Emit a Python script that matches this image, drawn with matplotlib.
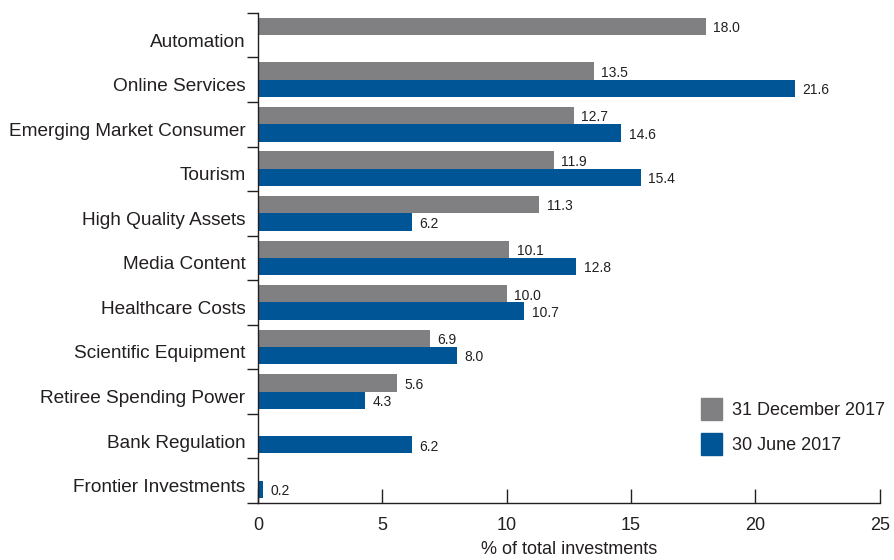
import numpy as np
import matplotlib.pyplot as plt
import matplotlib.transforms as mtransforms
from matplotlib.patches import Patch

plt.rcParams["font.family"] = ["Liberation Sans", "DejaVu Sans"]

categories = [
    "Automation", "Online Services", "Emerging Market Consumer", "Tourism",
    "High Quality Assets", "Media Content", "Healthcare Costs",
    "Scientific Equipment", "Retiree Spending Power", "Bank Regulation",
    "Frontier Investments",
]
dec_2017 = [18.0, 13.5, 12.7, 11.9, 11.3, 10.1, 10.0, 6.9, 5.6, None, None]
jun_2017 = [None, 21.6, 14.6, 15.4, 6.2, 12.8, 10.7, 8.0, 4.3, 6.2, 0.2]

GREY = "#808083"
BLUE = "#005596"
TEXT = "#231f20"

fig = plt.figure(figsize=(8.94, 5.6), dpi=100)
ax = fig.add_axes([0.2886, 0.102, 0.6955, 0.875])

n = len(categories)
y = np.arange(n)
h = 0.39

for i, (d, j) in enumerate(zip(dec_2017, jun_2017)):
    if d is not None:
        ax.barh(i - h / 2, d, height=h, color=GREY)
        ax.text(d + 0.3, i - h / 2 + 0.04, f"{d:.1f}", va="center",
                fontsize=10, color=TEXT)
    if j is not None:
        ax.barh(i + h / 2, j, height=h, color=BLUE)
        ax.text(j + 0.3, i + h / 2 + 0.04, f"{j:.1f}", va="center",
                fontsize=10, color=TEXT)

ax.set_ylim(n - 0.5, -0.5)
ax.set_xlim(0, 25)

ax.set_yticks(y)
ax.set_yticklabels(categories, fontsize=13.7, color=TEXT)
ax.set_yticks(np.arange(n + 1) - 0.5, minor=True)
ax.tick_params(axis="y", which="major", length=0, pad=9)
ax.tick_params(axis="y", which="minor", length=8, width=1.0, color=TEXT)
# nudge the category names a little below the group centre
shift = mtransforms.ScaledTranslation(0, -5 / 100, fig.dpi_scale_trans)
for lbl in ax.get_yticklabels():
    lbl.set_transform(lbl.get_transform() + shift)

ax.set_xticks(range(0, 26, 5))
ax.tick_params(axis="x", direction="in", length=10, width=1.0, color=TEXT,
               labelsize=13, labelcolor=TEXT, pad=10)
ax.set_xlabel("% of total investments", fontsize=13, color=TEXT, labelpad=5)

for side in ("top", "right"):
    ax.spines[side].set_visible(False)
for side in ("left", "bottom"):
    ax.spines[side].set_color(TEXT)
    ax.spines[side].set_linewidth(1.0)

handles = [Patch(color=GREY, label="31 December 2017"),
           Patch(color=BLUE, label="30 June 2017")]
ax.legend(handles=handles, loc="lower right", bbox_to_anchor=(1.035, 0.065),
          frameon=False, fontsize=13, handlelength=1.2, handleheight=1.5,
          labelspacing=0.7, handletextpad=0.55, labelcolor=TEXT)

fig.savefig("out.png", dpi=100)
